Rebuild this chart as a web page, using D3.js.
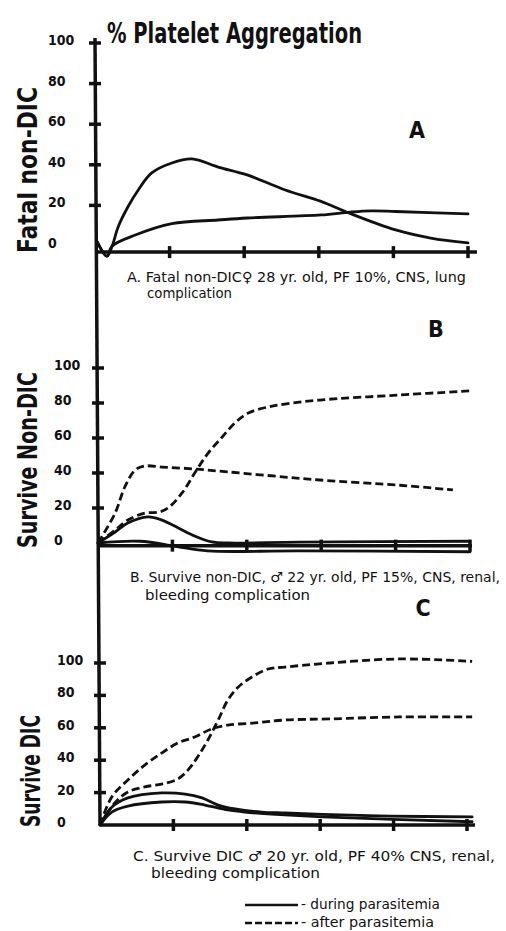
<!DOCTYPE html>
<html>
<head>
<meta charset="utf-8">
<script src="https://cdn.jsdelivr.net/npm/d3@7"></script>
<style>
body { margin: 0; background: #fff; }
text { font-family: "DejaVu Sans Condensed", "DejaVu Sans", sans-serif; fill: #111; }
</style>
</head>
<body>
<div id="chart"></div>
<script>
// % platelet aggregation, three patients, during / after parasitemia
const width = 506
const height = 931

const timeTicks = [1, 2, 3, 4, 5]
const pctTicks = [0, 20, 40, 60, 80, 100]

// A. Fatal non-DIC  [time, %]
const fatalDuring1 = [[0.03, 2], [0.16, -5], [0.23, 0], [0.31, 9.4], [0.44, 19.2], [0.58, 27.6], [0.76, 36], [1.03, 40.9],
    [1.3, 42.9], [1.65, 38.9], [2.04, 35], [2.55, 27.6], [3.03, 22], [3.42, 16], [4.03, 7.9], [4.5, 3.9], [5.0, 1.5]]
const fatalDuring2 = [[0.03, 2], [0.16, -5], [0.23, 0], [0.54, 5.4], [1.03, 11], [1.65, 12.8], [2.04, 13.8], [3.03, 15.3],
    [3.42, 16.7], [3.7, 17.3], [4.03, 17], [5.0, 15.8]]

// B. Survive non-DIC
const nonDicDuring1 = [[0, 0], [0.23, 6.3], [0.4, 11.4], [0.67, 14.9], [0.86, 13.1], [1.08, 8.6], [1.3, 4], [1.53, 0.6],
    [1.75, 0], [2.7, 0.5], [5.0, 1]]
const nonDicDuring2 = [[0, 0], [0.56, 1], [1.06, -2], [1.47, -4.5], [2.7, -4.5], [5.0, -5]]
const nonDicAfter1 = [[0, 0], [0.23, 7.4], [0.4, 13.1], [0.63, 17.1], [0.81, 17.6], [0.94, 20], [1.13, 28.6], [1.3, 40],
    [1.48, 51.4], [1.67, 60.6], [1.84, 68.6], [2.02, 74.3], [2.28, 77.7], [2.51, 79.4], [2.98, 81.7], [4.06, 84.6], [5.0, 86.9]]
const nonDicAfter2 = [[0, 0], [0.23, 17.1], [0.36, 32], [0.5, 41.7], [0.63, 44], [0.86, 43.4], [1.3, 42.3], [1.75, 40.6],
    [2.51, 37.7], [2.98, 36], [4.06, 33], [4.77, 30.3]]

// C. Survive DIC
const dicDuring1 = [[0, 0], [0.16, 11], [0.38, 16.7], [0.84, 19.8], [1.16, 19.1], [1.39, 16.7], [1.61, 12.3], [1.84, 9.9],
    [2.2, 8], [2.52, 7.4], [3.03, 6.5], [3.95, 5.5], [5.07, 5]]
const dicDuring2 = [[0, 0], [0.16, 8], [0.38, 11.7], [0.84, 14.2], [1.16, 14.2], [1.43, 12.3], [1.74, 9.3], [1.97, 8],
    [2.52, 6.2], [3.03, 5], [5.07, 2]]
const dicAfter1 = [[0, 0], [0.2, 13.6], [0.38, 20.4], [0.61, 23.5], [0.84, 25.3], [1.06, 28.4], [1.2, 34], [1.33, 42],
    [1.47, 52.5], [1.61, 64.8], [1.74, 77], [1.88, 85], [2.07, 91.4], [2.29, 96.3], [2.52, 97.5], [3.13, 100], [4.08, 102.5], [5.07, 101]]
const dicAfter2 = [[0, 0], [0.16, 17.3], [0.38, 27.8], [0.61, 37], [0.84, 44.4], [1.06, 50.6], [1.29, 54.3], [1.52, 59.3],
    [1.74, 61.7], [2.11, 63], [2.52, 64.8], [3.13, 65.5], [4.08, 66.7], [5.07, 66.7]]

const panels = [
    {
        letter: "A", yTitle: "Fatal non-DIC", x0: 95, x5: 468, xEnd: 477, y0: 246, y100: 43, base: -3, labelX: 48,
        titleX: 37, titleY: 170, titleLen: 166, letterX: 417, letterY: 138,
        caption: [["A. Fatal non-DIC\u2640 28 yr. old, PF 10%, CNS, lung", 127, 282, 339], ["complication", 147, 298, 85]],
        solid: [fatalDuring1, fatalDuring2], dashed: []
    },
    {
        letter: "B", yTitle: "Survive Non-DIC", x0: 98, x5: 470, xEnd: 472, y0: 543, y100: 368, base: -1.5, labelX: 54,
        titleX: 37, titleY: 460, titleLen: 176, letterX: 436, letterY: 337,
        caption: [["B. Survive non-DIC, \u2642 22 yr. old, PF 15%, CNS, renal,", 130, 582, 370], ["bleeding complication", 145, 600, 165]],
        solid: [nonDicDuring1, nonDicDuring2], dashed: [nonDicAfter1, nonDicAfter2]
    },
    {
        letter: "C", yTitle: "Survive DIC", x0: 100, x5: 467, xEnd: 475, y0: 825, y100: 663, base: 0, labelX: 57,
        titleX: 40, titleY: 771, titleLen: 112, letterX: 423, letterY: 616,
        caption: [["C. Survive DIC \u2642 20 yr. old, PF 40% CNS, renal,", 133, 861, 362], ["bleeding complication", 151, 878, 169]],
        solid: [dicDuring1, dicDuring2], dashed: [dicAfter1, dicAfter2]
    }
]

const ink = "#111"

const svg = d3.select("#chart")
    .append("svg")
    .attr("width", width)
    .attr("height", height)

svg.append("text")
    .attr("x", 107)
    .attr("y", 43)
    .attr("font-size", 29)
    .attr("font-weight", "bold")
    .attr("textLength", 255)
    .attr("lengthAdjust", "spacingAndGlyphs")
    .text("% Platelet Aggregation")

// one long vertical axis through all three panels
const first = panels[0], last = panels[2]
svg.append("line")
    .attr("x1", first.x0).attr("y1", 38)
    .attr("x2", last.x0).attr("y2", d3.scaleLinear().domain([0, 100]).range([last.y0, last.y100])(last.base))
    .attr("stroke", ink).attr("stroke-width", 3.5)

panels.forEach(p => {
    const x = d3.scaleLinear().domain([0, 5]).range([p.x0, p.x5])
    const y = d3.scaleLinear().domain([0, 100]).range([p.y0, p.y100])
    const g = svg.append("g")

    // x axis
    g.append("line")
        .attr("x1", x(0)).attr("x2", p.xEnd)
        .attr("y1", y(p.base)).attr("y2", y(p.base))
        .attr("stroke", ink).attr("stroke-width", 3.5)
    g.selectAll(".xtick").data(timeTicks).enter().append("line")
        .attr("x1", d => x(d)).attr("x2", d => x(d))
        .attr("y1", y(p.base) - 6).attr("y2", y(p.base) + 6)
        .attr("stroke", ink).attr("stroke-width", 3.5)

    // y ticks
    g.selectAll(".ytick").data(pctTicks.filter(d => d > 0)).enter().append("line")
        .attr("x1", x(0) - 6).attr("x2", x(0) + 6)
        .attr("y1", d => y(d)).attr("y2", d => y(d))
        .attr("stroke", ink).attr("stroke-width", 3.5)
    g.selectAll(".ylab").data(pctTicks).enter().append("text")
        .attr("x", p.labelX)
        .attr("y", d => y(d) + 2)
        .attr("font-size", 14)
        .attr("font-weight", "bold")
        .text(d => d)

    g.append("text")
        .attr("transform", `translate(${p.titleX},${p.titleY}) rotate(-90)`)
        .attr("text-anchor", "middle")
        .attr("font-size", 27)
        .attr("font-weight", "bold")
        .attr("textLength", p.titleLen)
        .attr("lengthAdjust", "spacingAndGlyphs")
        .text(p.yTitle)

    g.append("text")
        .attr("x", p.letterX).attr("y", p.letterY)
        .attr("text-anchor", "middle")
        .attr("font-size", 23)
        .attr("font-weight", "bold")
        .attr("font-family", "DejaVu Sans, sans-serif")
        .text(p.letter)

    p.caption.forEach(c => {
        g.append("text")
            .attr("x", c[1]).attr("y", c[2])
            .attr("font-size", 14)
            .attr("textLength", c[3])
            .attr("lengthAdjust", "spacingAndGlyphs")
            .text(c[0])
    })

    const line = d3.line()
        .x(d => x(d[0]))
        .y(d => y(d[1]))
        .curve(d3.curveCatmullRom.alpha(0.5))

    g.selectAll(".solid").data(p.solid).enter().append("path")
        .attr("d", line)
        .attr("fill", "none")
        .attr("stroke", ink)
        .attr("stroke-width", 2.8)
        .attr("stroke-linecap", "round")
    g.selectAll(".dashed").data(p.dashed).enter().append("path")
        .attr("d", line)
        .attr("fill", "none")
        .attr("stroke", ink)
        .attr("stroke-width", 2.8)
        .attr("stroke-dasharray", "8,4")
})

// legend
const legend = svg.append("g")
const legendItems = [["- during parasitemia", null, 905, 139], ["- after parasitemia", "7,3", 923, 133]]
legendItems.forEach(l => {
    legend.append("line")
        .attr("x1", 245).attr("x2", 298)
        .attr("y1", l[2]).attr("y2", l[2])
        .attr("stroke", ink).attr("stroke-width", 2.5)
        .attr("stroke-dasharray", l[1])
    legend.append("text")
        .attr("x", 301).attr("y", l[2] + 4)
        .attr("font-size", 14)
        .attr("textLength", l[3])
        .attr("lengthAdjust", "spacingAndGlyphs")
        .text(l[0])
})
</script>
</body>
</html>
